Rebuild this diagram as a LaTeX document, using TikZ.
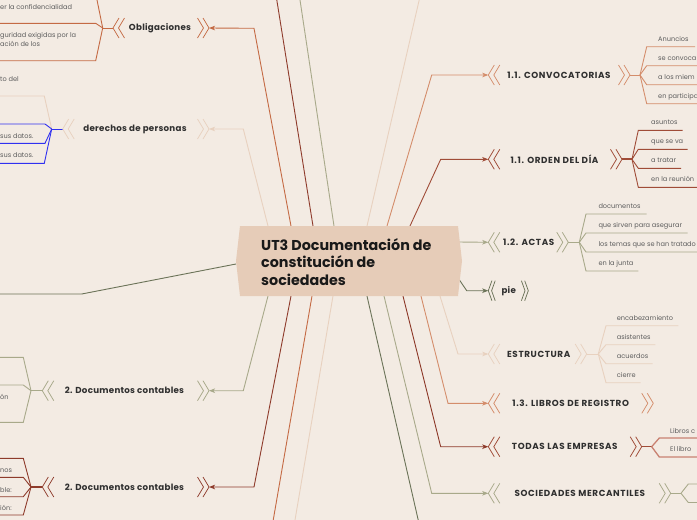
\documentclass[tikz,border=0pt]{standalone}
\usepackage{fontspec}
\setmainfont{Poppins}
\usetikzlibrary{arrows.meta}
\definecolor{bgc}{HTML}{F3EBE3}
\definecolor{ctrfill}{HTML}{E6CCB8}
\definecolor{corange}{HTML}{C46A44}
\definecolor{clorange}{HTML}{D48D6B}
\definecolor{cdred}{HTML}{8E3B2B}
\definecolor{cbrown}{HTML}{A04C38}
\definecolor{colive}{HTML}{A8A98A}
\definecolor{cbeige}{HTML}{E8D1BF}
\definecolor{cdgreen}{HTML}{6B7358}
\definecolor{cblue}{HTML}{3030F0}
\definecolor{ctext}{HTML}{2F2F2F}
\definecolor{cleaf}{HTML}{5E5E5E}
\definecolor{clred}{HTML}{C98272}
\pgfdeclarelayer{back}
\pgfdeclarelayer{lines}
\pgfsetlayers{back,lines,main}
\tikzset{
  conn/.style={line width=0.9pt, -{Stealth[length=6pt,width=4.5pt,inset=1.5pt]}},
  wire/.style={line width=0.9pt},
  topic/.style={font=\bfseries\fontsize{8.7}{10}\selectfont\addfontfeature{LetterSpace=3}, text=ctext, inner sep=0pt},
  topiccaps/.style={font=\bfseries\fontsize{8.8}{10}\selectfont\addfontfeature{LetterSpace=7}, text=ctext, inner sep=0pt},
  leaf/.style={font=\fontsize{6.6}{9}\selectfont, text=cleaf, inner sep=0pt, anchor=base west},
  title/.style={font=\bfseries\fontsize{14.3}{17.6}\selectfont, text=black!90, align=left, anchor=west, inner sep=0pt},
  chev/.pic={\draw[line width=0.75pt] (6,-10)--(0,0)--(6,10) (11.5,-10)--(5.5,0)--(11.5,10);},
}
\begin{document}
\begin{tikzpicture}[x=1pt,y=-1pt]
\useasboundingbox (0,0) rectangle (697,520);
\begin{pgfonlayer}{back}
\fill[bgc] (-20,-20) rectangle (720,540);
\end{pgfonlayer}
% ---------------- center
\fill[ctrfill] (240,226) -- (458,226) -- (462,261) -- (458,296) -- (240,296) -- (236,261) -- cycle;
\node[title] (ctr) at (261,262) {UT3 Documentación de\\constitución de\\sociedades};
% start points on the central box
\coordinate (sOb) at (291,226);
\coordinate (sDer) at (268,226);
\coordinate (sT1) at (313,226);
\coordinate (sT2) at (334,226);
\coordinate (sT3) at (367,226);
\coordinate (sConv) at (387,226);
\coordinate (sOrd) at (410,226);
\coordinate (sActas) at (458,242);
\coordinate (sPie) at (459.5,280);
\coordinate (sEst) at (440,296);
\coordinate (sLib) at (421,296);
\coordinate (sTod) at (403,296);
\coordinate (sSoc) at (384,296);
\coordinate (sB1) at (367,296);
\coordinate (sB2) at (333,296);
\coordinate (sB3) at (312,296);
\coordinate (sDoc2) at (291,296);
\coordinate (sDoc1) at (268,296);
\coordinate (sLeft) at (236,264);
% free ends
\coordinate (eT1) at (275.2,-10);
\coordinate (eT2) at (298.5,-10);
\coordinate (eT3) at (421.5,-10);
\coordinate (eB1) at (420.5,530);
\coordinate (eB2) at (293.3,530);
\coordinate (eB3) at (271.5,530);
\coordinate (eLeft) at (-10,294);

% ---------------- topics (left)
\node[topic] (obl) at (160,28) {Obligaciones};
\coordinate (oblL) at (113,28); \coordinate (oblR) at (209,28); \coordinate (oblH) at (102.7,28);
\pic[color=corange] at (oblL) {chev};
\pic[color=corange, xscale=-1] at (oblR) {chev};

\node[topic] (der) at (135,129) {derechos de personas};
\coordinate (derL) at (62.7,129); \coordinate (derR) at (209,129); \coordinate (derH) at (51.7,129);
\pic[color=cbeige] at (derL) {chev};
\pic[color=cbeige, xscale=-1] at (derR) {chev};

\node[topic] (doc1) at (124.5,390.7) {2. Documentos contables};
\coordinate (doc1L) at (42.3,390.7); \coordinate (doc1R) at (209,390.7); \coordinate (doc1H) at (31,390.7);
\pic[color=colive] at (doc1L) {chev};
\pic[color=colive, xscale=-1] at (doc1R) {chev};

\node[topic] (doc2) at (124.5,487) {2. Documentos contables};
\coordinate (doc2L) at (42.3,487); \coordinate (doc2R) at (209,487); \coordinate (doc2H) at (31,487);
\pic[color=cdred] at (doc2L) {chev};
\pic[color=cdred, xscale=-1] at (doc2R) {chev};

% ---------------- topics (right)
\node[topiccaps] (conv) at (559,75) {1.1. CONVOCATORIAS};
\coordinate (convL) at (488.3,75); \coordinate (convR) at (630,75); \coordinate (convH) at (640,75);
\pic[color=clorange] at (convL) {chev};
\pic[color=clorange, xscale=-1] at (convR) {chev};

\node[topiccaps] (ord) at (554.5,159.3) {1.1. ORDEN DEL DÍA};
\coordinate (ordL) at (488.3,159.3); \coordinate (ordR) at (622,159.3); \coordinate (ordH) at (632,159.3);
\pic[color=cbrown] at (ordL) {chev};
\pic[color=cbrown, xscale=-1] at (ordR) {chev};

\node[topiccaps] (actas) at (528.7,242.3) {1.2. ACTAS};
\coordinate (actasL) at (488.3,242.3); \coordinate (actasR) at (568.3,242.3); \coordinate (actasH) at (579.3,242.3);
\pic[color=colive] at (actasL) {chev};
\pic[color=colive, xscale=-1] at (actasR) {chev};

\node[topic] (pie) at (508.7,290.7) {pie};
\coordinate (pieL) at (488.3,290.7); \coordinate (pieR) at (528.3,290.7);
\pic[color=cdgreen, xscale=0.6] at (pieL) {chev};
\pic[color=cdgreen, xscale=-0.6] at (pieR) {chev};

\node[topiccaps] (est) at (538.7,354) {ESTRUCTURA};
\coordinate (estL) at (488.3,354); \coordinate (estR) at (586.7,354); \coordinate (estH) at (598.3,354);
\pic[color=cbeige] at (estL) {chev};
\pic[color=cbeige, xscale=-1] at (estR) {chev};

\node[topiccaps] (lib) at (570.7,403.3) {1.3. LIBROS DE REGISTRO};
\coordinate (libL) at (488.3,403.3); \coordinate (libR) at (653.3,403.3);
\pic[color=clorange] at (libL) {chev};
\pic[color=clorange, xscale=-1] at (libR) {chev};

\node[topiccaps] (tod) at (564.8,446.7) {TODAS LAS EMPRESAS};
\coordinate (todL) at (488.3,446.7); \coordinate (todR) at (641.7,446.7); \coordinate (todH) at (651.7,446.7);
\pic[color=cbrown] at (todL) {chev};
\pic[color=cbrown, xscale=-1] at (todR) {chev};

\node[topiccaps] (soc) at (579.8,493.3) {SOCIEDADES MERCANTILES};
\coordinate (socL) at (488.3,493.3); \coordinate (socR) at (670.7,493.3); \coordinate (socH) at (681,493.3);
\pic[color=colive] at (socL) {chev};
\pic[color=colive, xscale=-1] at (socR) {chev};

% ---------------- leaves
\node[leaf] (ob1) at (0,9.6) {er la confidencialidad};
\node[leaf] (ob2a) at (0,37.5) {guridad exigidas por la};
\node[leaf] (ob2b) at (0,46.5) {ación de los};
\node[leaf] (de1) at (0,81.5) {to del};
\node[leaf] (de3) at (0,138.5) {sus datos.};
\node[leaf] (de4) at (0,157.5) {sus datos.};
\node[leaf] (dc1) at (0,399.5) {ón};
\node[leaf] (dr2) at (0,472.2) {nos};
\node[leaf] (dr3) at (0,492) {ble:};
\node[leaf] (dr4) at (0,510.5) {ión:};

\node[leaf] (cv1) at (658,41.5) {Anuncios};
\node[leaf] (cv2) at (658,60.5) {se convoca};
\node[leaf] (cv3) at (658,79.5) {a los miem};
\node[leaf] (cv4) at (658,98.5) {en participa};

\node[leaf] (od1) at (651,124.5) {asuntos};
\node[leaf] (od2) at (651,143.5) {que se va};
\node[leaf] (od3) at (651,162.5) {a tratar};
\node[leaf] (od4) at (651,181.5) {en la reunión};

\node[leaf] (ac1) at (598.3,208.5) {documentos};
\node[leaf] (ac2) at (598.3,227.5) {que sirven para asegurar};
\node[leaf] (ac3) at (598.3,246.5) {los temas que se han tratado};
\node[leaf] (ac4) at (598.3,265.5) {en la junta};

\node[leaf] (es1) at (616.7,320.5) {encabezamiento};
\node[leaf] (es2) at (616.7,339.5) {asistentes};
\node[leaf] (es3) at (616.7,358.5) {acuerdos};
\node[leaf] (es4) at (616.7,377.5) {cierre};

\node[leaf] (td1) at (670,433) {Libros c};
\node[leaf] (td2) at (670,451.5) {El libro};

% ---------------- connectors
\begin{pgfonlayer}{lines}
% from center
\draw[conn, corange] (sOb) -- (254,28.3) -- (oblR);
\draw[conn, cbeige] (sDer) -- (243.3,129) -- (derR);
\draw[wire, cdred] (sT1) -- (eT1);
\draw[wire, colive] (sT2) -- (eT2);
\draw[wire, cbeige] (sT3) -- (eT3);
\draw[conn, clorange] (sConv) -- (431.7,75) -- (convL);
\draw[conn, cbrown] (sOrd) -- (440.7,159.3) -- (ordL);
\draw[conn, colive] (sActas) -- (actasL);
\draw[conn, cdgreen] (sPie) -- (466.7,290.7) -- (pieL);
\draw[conn, cbeige] (sEst) -- (458,354) -- (estL);
\draw[conn, clorange] (sLib) -- (448,403.3) -- (libL);
\draw[conn, cdred] (sTod) -- (440.7,446.7) -- (todL);
\draw[conn, colive] (sSoc) -- (431.7,493.3) -- (socL);
\draw[wire, cdgreen] (sB1) -- (eB1);
\draw[wire, cbeige] (sB2) -- (eB2);
\draw[wire, corange] (sB3) -- (eB3);
\draw[conn, cdred] (sDoc2) -- (254,487) -- (doc2R);
\draw[conn, colive] (sDoc1) -- (243.3,390.7) -- (doc1R);
\draw[wire, cdgreen] (sLeft) -- (81.7,294) -- (eLeft);
% Obligaciones branches
\draw[wire, corange] (oblL) -- (oblH);
\draw[wire, corange] (oblH) -- (95,-10);
\draw[wire, corange] (oblH) -- (95.7,23.3) -- (-5,23.3);
\draw[wire, corange] (oblH) -- (95.7,60.7) -- (-5,60.7);
% derechos branches
\draw[wire, cblue] (derL) -- (derH);
\draw[wire, cbeige] (derH) -- (44.3,96) -- (-5,96);
\draw[wire, cblue] (derH) -- (45,124) -- (-5,124);
\draw[wire, cblue] (derH) -- (45,143.3) -- (-5,143.3);
\draw[wire, cblue] (derH) -- (44.3,163.3) -- (-5,163.3);
% Documentos contables (olive)
\draw[wire, colive] (doc1L) -- (doc1H);
\draw[wire, colive] (doc1H) -- (23.3,357.3) -- (-5,357.3);
\draw[wire, colive] (doc1H) -- (23.3,385) -- (-5,385);
\draw[wire, colive] (doc1H) -- (23.3,422.3) -- (-5,422.3);
% Documentos contables (red)
\draw[wire, cdred, line width=1.6pt] (doc2L) -- (doc2H);
\draw[wire, cdred] (doc2H) -- (23.3,458.3) -- (-5,458.3);
\draw[wire, cdred] (doc2H) -- (23.3,477.3) -- (-5,477.3);
\draw[wire, cdred] (doc2H) -- (23.3,496.7) -- (-5,496.7);
\draw[wire, cdred] (doc2H) -- (23.3,515) -- (-5,515);
% CONVOCATORIAS
\draw[wire, clorange] (convR) -- (convH);
\draw[wire, clorange] (convH) -- (646.7,46.7) -- (695,46.7);
\draw[wire, clorange] (convH) -- (646.7,65.7) -- (705,65.7);
\draw[wire, clorange] (convH) -- (646.7,84.7) -- (705,84.7);
\draw[wire, clorange] (convH) -- (646.7,103.7) -- (705,103.7);
% ORDEN DEL DIA
\draw[wire, cbrown, line width=1.8pt] (ordR) -- (ordH);
\draw[wire, cbrown] (ordH) -- (638.3,130.3) -- (682.7,130.3);
\draw[wire, cbrown] (ordH) -- (638.3,149.3) -- (687.7,149.3);
\draw[wire, cbrown] (ordH) -- (638.3,168.3) -- (681,168.3);
\draw[wire, cbrown] (ordH) -- (638.3,187.3) -- (705,187.3);
% ACTAS
\draw[wire, colive] (actasR) -- (actasH);
\draw[wire, colive] (actasH) -- (586,214) -- (646.7,214);
\draw[wire, colive] (actasH) -- (586,233) -- (687.7,233);
\draw[wire, colive] (actasH) -- (586,252) -- (705,252);
\draw[wire, colive] (actasH) -- (586,271) -- (638.3,271);
% ESTRUCTURA
\draw[wire, cbeige] (estR) -- (estH);
\draw[wire, cbeige] (estH) -- (606,325.7) -- (678.3,325.7);
\draw[wire, cbeige] (estH) -- (606,344.7) -- (655.3,344.7);
\draw[wire, cbeige] (estH) -- (606,363.7) -- (652.7,363.7);
\draw[wire, cbeige] (estH) -- (606,382.7) -- (640.7,382.7);
% TODAS LAS EMPRESAS
\draw[wire, cbrown] (todR) -- (todH);
\draw[wire, clred, line width=1.3pt] (todH) -- (659.3,438) -- (705,438);
\draw[wire, clred, line width=1.3pt] (todH) -- (659.3,457) -- (705,457);
% SOCIEDADES MERCANTILES
\draw[wire, colive] (socR) -- (socH);
\draw[wire, colive] (socH) -- (688.3,484) -- (705,484);
\draw[wire, colive] (socH) -- (688.3,502.5) -- (705,502.5);
\end{pgfonlayer}
\end{tikzpicture}
\end{document}
